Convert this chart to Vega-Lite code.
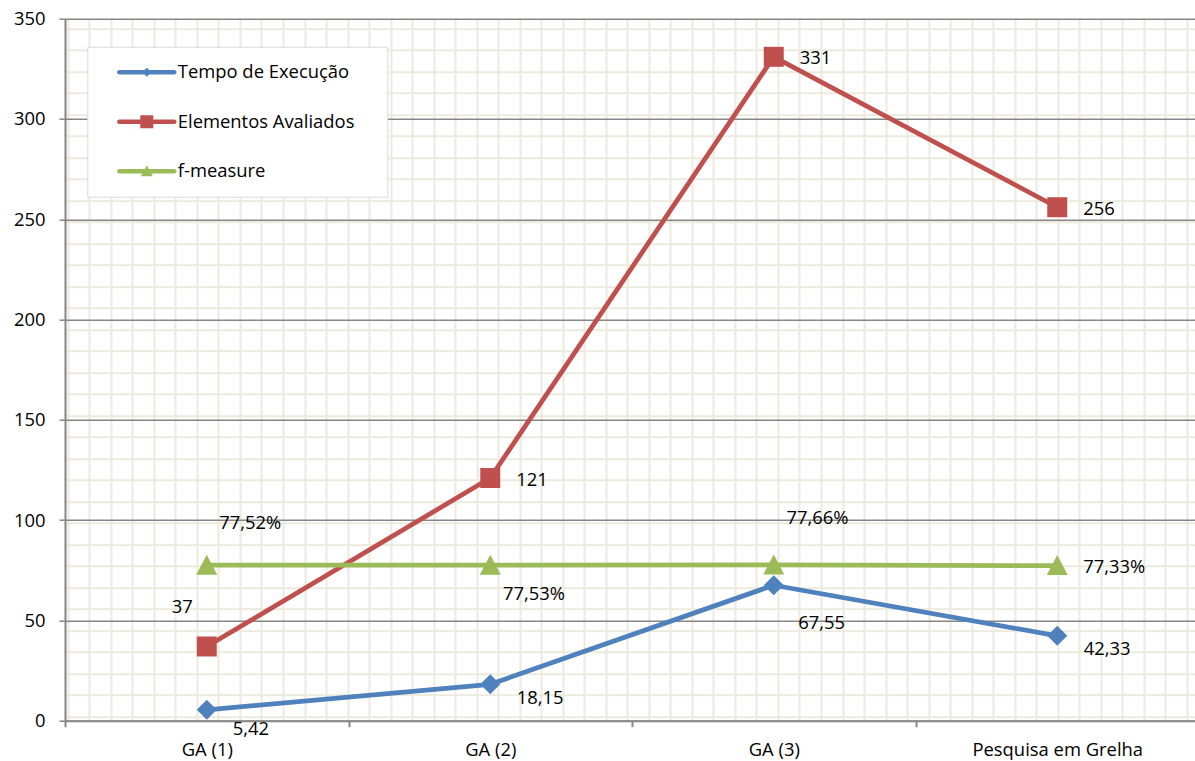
{
  "$schema": "https://vega.github.io/schema/vega-lite/v6.json",
  "width": 1130,
  "height": 702,
  "autosize": {"type": "none"},
  "padding": {"left": 65, "top": 18.7, "right": 0, "bottom": 40.3},
  "background": "white",
  "config": {
    "view": {"stroke": null},
    "font": "Open Sans",
    "axis": {"labelFont": "Open Sans", "labelFontSize": 18.4, "labelColor": "#000000", "title": null},
    "text": {"font": "Open Sans", "fontSize": 18.4, "color": "#000000"}
  },
  "layer": [
    {
      "data": {"values": [{}]},
      "mark": {"type": "point", "opacity": 0},
      "encoding": {
        "x": {
          "datum": 0,
          "type": "quantitative",
          "scale": {"domain": [-0.13, 52.38], "nice": false, "zero": false},
          "axis": {
            "orient": "bottom",
            "values": [0,1,2,3,4,5,6,7,8,9,10,11,12,13,14,15,16,17,18,19,20,21,22,23,24,25,26,27,28,29,30,31,32,33,34,35,36,37,38,39,40,41,42,43,44,45,46,47,48,49,50,51,52],
            "grid": true, "gridColor": "#ECEADD", "gridWidth": 2,
            "labels": false, "ticks": false, "domain": false, "title": null
          }
        },
        "y": {
          "datum": 0,
          "type": "quantitative",
          "scale": {"domain": [-0.446, 32.19], "nice": false, "zero": false, "reverse": true},
          "axis": {
            "orient": "left",
            "values": [0,1,2,3,4,5,6,7,8,9,10,11,12,13,14,15,16,17,18,19,20,21,22,23,24,25,26,27,28,29,30,31,32],
            "grid": true, "gridColor": "#ECEADD", "gridWidth": 2,
            "labels": false, "ticks": false, "domain": false, "title": null
          }
        }
      }
    },
    {
      "data": {
        "values": [
          {"categoria": "GA (1)", "serie": "Tempo de Execução", "valor": 5.42, "rotulo": "5,42"},
          {"categoria": "GA (2)", "serie": "Tempo de Execução", "valor": 18.15, "rotulo": "18,15"},
          {"categoria": "GA (3)", "serie": "Tempo de Execução", "valor": 67.55, "rotulo": "67,55"},
          {"categoria": "Pesquisa em Grelha", "serie": "Tempo de Execução", "valor": 42.33, "rotulo": "42,33"},
          {"categoria": "GA (1)", "serie": "Elementos Avaliados", "valor": 37, "rotulo": "37"},
          {"categoria": "GA (2)", "serie": "Elementos Avaliados", "valor": 121, "rotulo": "121"},
          {"categoria": "GA (3)", "serie": "Elementos Avaliados", "valor": 331, "rotulo": "331"},
          {"categoria": "Pesquisa em Grelha", "serie": "Elementos Avaliados", "valor": 256, "rotulo": "256"},
          {"categoria": "GA (1)", "serie": "f-measure", "valor": 77.52, "rotulo": "77,52%"},
          {"categoria": "GA (2)", "serie": "f-measure", "valor": 77.53, "rotulo": "77,53%"},
          {"categoria": "GA (3)", "serie": "f-measure", "valor": 77.66, "rotulo": "77,66%"},
          {"categoria": "Pesquisa em Grelha", "serie": "f-measure", "valor": 77.33, "rotulo": "77,33%"}
        ]
      },
      "encoding": {
        "x": {
          "field": "categoria",
          "type": "nominal",
          "sort": ["GA (1)", "GA (2)", "GA (3)", "Pesquisa em Grelha"],
          "scale": {"type": "band", "range": [0, 1134], "paddingInner": 0, "paddingOuter": 0},
          "axis": {
            "orient": "bottom", "labelAngle": 0, "tickBand": "extent",
            "grid": false, "domain": true, "domainColor": "#868686", "domainWidth": 2,
            "ticks": true, "tickColor": "#868686", "tickWidth": 2, "tickSize": 6,
            "labelPadding": 13.5, "labelBaseline": "top"
          }
        },
        "y": {
          "field": "valor",
          "type": "quantitative",
          "scale": {"domain": [0, 350], "nice": false, "zero": true},
          "axis": {
            "orient": "left",
            "values": [0, 50, 100, 150, 200, 250, 300, 350],
            "grid": true, "gridColor": "#868686", "gridWidth": 1.5,
            "domain": true, "domainColor": "#868686", "domainWidth": 2,
            "ticks": true, "tickColor": "#868686", "tickWidth": 1.5, "tickSize": 6,
            "labelPadding": 14
          }
        },
        "color": {
          "field": "serie",
          "type": "nominal",
          "scale": {
            "domain": ["Tempo de Execução", "Elementos Avaliados", "f-measure"],
            "range": ["#4F81BD", "#C0504D", "#9BBB59"]
          },
          "legend": {
            "title": "\u00a0",
            "titleOrient": "right",
            "titleFontSize": 1,
            "titlePadding": 17,
            "orient": "none",
            "legendX": 22.3,
            "legendY": 28,
            "padding": 15.5,
            "fillColor": "white",
            "strokeColor": "#D9D9D9",
            "symbolSize": 400,
            "symbolOffset": 34,
            "labelOffset": 21,
            "rowPadding": 29.5,
            "labelLimit": 400,
            "labelFont": "Open Sans",
            "labelFontSize": 18.4,
            "labelColor": "#000000",
            "encode": {
              "symbols": {
                "update": {
                  "shape": {"signal": "datum.value === 'Tempo de Execução' ? 'M-2.75,-0.225H2.75A0.225,0.225 0 0 1 2.75,0.225H-2.75A0.225,0.225 0 0 1 -2.75,-0.225ZM0,-0.45L0.45,0L0,0.45L-0.45,0Z' : datum.value === 'Elementos Avaliados' ? 'M-2.75,-0.225H2.75A0.225,0.225 0 0 1 2.75,0.225H-2.75A0.225,0.225 0 0 1 -2.75,-0.225ZM-0.65,-0.65H0.65V0.65H-0.65Z' : 'M-2.75,-0.225H2.75A0.225,0.225 0 0 1 2.75,0.225H-2.75A0.225,0.225 0 0 1 -2.75,-0.225ZM0,-0.6L0.6,0.5L-0.6,0.5Z'"},
                  "fill": {"scale": "color", "field": "value"},
                  "stroke": {"value": "transparent"},
                  "strokeWidth": {"value": 0},
                  "opacity": {"value": 1},
                  "size": {"value": 400}
                }
              }
            }
          }
        }
      },
      "layer": [
        {
          "mark": {"type": "line", "strokeWidth": 4.75, "strokeJoin": "round", "strokeCap": "round"}
        },
        {
          "transform": [{"filter": "datum.serie === 'Tempo de Execução'"}],
          "mark": {"type": "point", "filled": true, "opacity": 1, "size": 400, "shape": "diamond"}
        },
        {
          "transform": [{"filter": "datum.serie === 'Elementos Avaliados'"}],
          "mark": {"type": "point", "filled": true, "opacity": 1, "size": 400, "shape": "square"}
        },
        {
          "transform": [{"filter": "datum.serie === 'f-measure'"}],
          "mark": {"type": "point", "filled": true, "opacity": 1, "size": 400, "shape": "M0,-1.05L1.05,0.95L-1.05,0.95Z"}
        },
        {
          "transform": [{"filter": "(datum.serie === 'Elementos Avaliados' && datum.categoria !== 'GA (1)') || (datum.serie === 'f-measure' && datum.categoria === 'Pesquisa em Grelha')"}],
          "mark": {"type": "text", "align": "left", "baseline": "middle", "dx": 26, "dy": 1.5},
          "encoding": {"text": {"field": "rotulo"}, "color": {"value": "#000000"}}
        },
        {
          "transform": [{"filter": "datum.serie === 'Tempo de Execução' && (datum.categoria === 'GA (2)' || datum.categoria === 'Pesquisa em Grelha')"}],
          "mark": {"type": "text", "align": "left", "baseline": "middle", "dx": 26.5, "dy": 13.5},
          "encoding": {"text": {"field": "rotulo"}, "color": {"value": "#000000"}}
        },
        {
          "transform": [{"filter": "datum.serie === 'Tempo de Execução' && datum.categoria === 'GA (1)'"}],
          "mark": {"type": "text", "align": "left", "baseline": "middle", "dx": 26, "dy": 19},
          "encoding": {"text": {"field": "rotulo"}, "color": {"value": "#000000"}}
        },
        {
          "transform": [{"filter": "datum.serie === 'Tempo de Execução' && datum.categoria === 'GA (3)'"}],
          "mark": {"type": "text", "align": "left", "baseline": "middle", "dx": 24.5, "dy": 38},
          "encoding": {"text": {"field": "rotulo"}, "color": {"value": "#000000"}}
        },
        {
          "transform": [{"filter": "datum.serie === 'Elementos Avaliados' && datum.categoria === 'GA (1)'"}],
          "mark": {"type": "text", "align": "right", "baseline": "middle", "dx": -14, "dy": -39},
          "encoding": {"text": {"field": "rotulo"}, "color": {"value": "#000000"}}
        },
        {
          "transform": [{"filter": "datum.serie === 'f-measure' && datum.categoria === 'GA (1)'"}],
          "mark": {"type": "text", "align": "left", "baseline": "middle", "dx": 12.5, "dy": -42.7},
          "encoding": {"text": {"field": "rotulo"}, "color": {"value": "#000000"}}
        },
        {
          "transform": [{"filter": "datum.serie === 'f-measure' && datum.categoria === 'GA (3)'"}],
          "mark": {"type": "text", "align": "left", "baseline": "middle", "dx": 12.7, "dy": -47},
          "encoding": {"text": {"field": "rotulo"}, "color": {"value": "#000000"}}
        },
        {
          "transform": [{"filter": "datum.serie === 'f-measure' && datum.categoria === 'GA (2)'"}],
          "mark": {"type": "text", "align": "left", "baseline": "middle", "dx": 12.7, "dy": 29.3},
          "encoding": {"text": {"field": "rotulo"}, "color": {"value": "#000000"}}
        }
      ]
    }
  ],
  "resolve": {"scale": {"x": "independent", "y": "independent"}, "axis": {"x": "independent", "y": "independent"}}
}
